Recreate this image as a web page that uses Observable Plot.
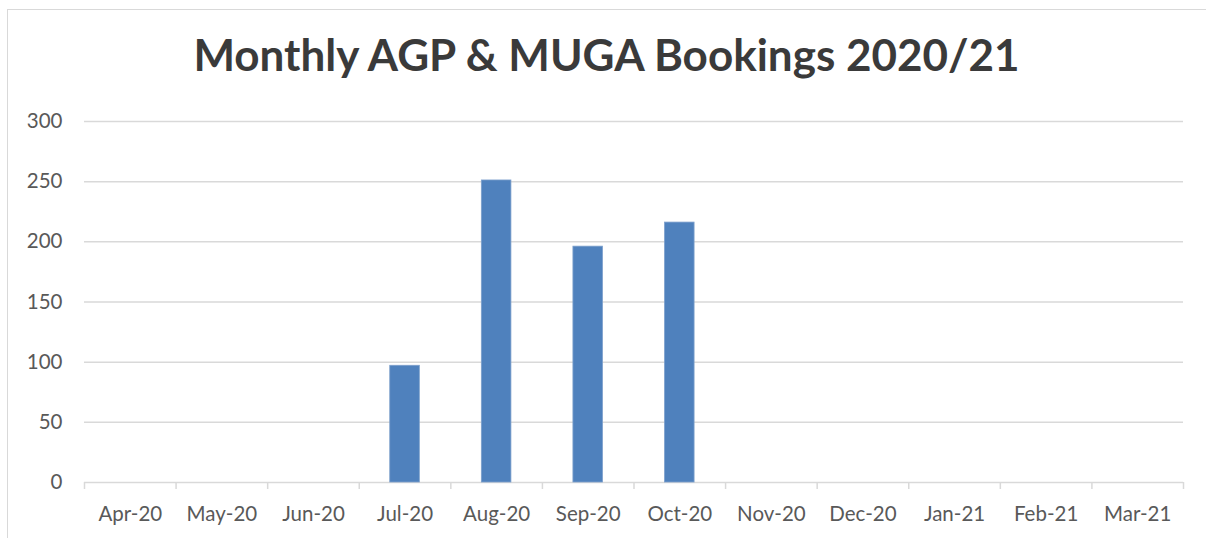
<!DOCTYPE html>
<html><head><meta charset="utf-8">
<script src="https://cdn.jsdelivr.net/npm/d3@7"></script>
<script src="https://cdn.jsdelivr.net/npm/@observablehq/plot@0.6"></script>
<style>
body{margin:0;background:#fff;overflow:hidden;font-family:Lato,sans-serif}
#wrap{position:relative;width:1206px;height:538px;overflow:hidden}
#frame{position:absolute;left:7px;top:9px;width:1300px;height:700px;border:1px solid #D9D9D9;box-sizing:border-box;pointer-events:none}
#title{position:relative;height:100px;box-sizing:border-box;padding-top:32px;padding-left:7px;line-height:44px;text-align:center;font-family:Lato,sans-serif;font-weight:bold;font-size:44px;color:#3a3a3a}
#chart svg{display:block}
</style></head><body>
<div id="wrap"><div id="frame"></div><div id="title">Monthly AGP &amp; MUGA Bookings 2020/21</div><div id="chart"></div></div>
<script>
const months = ["Apr-20","May-20","Jun-20","Jul-20","Aug-20","Sep-20","Oct-20","Nov-20","Dec-20","Jan-21","Feb-21","Mar-21"];
const bookings = [0,0,0,97,251,196,216,0,0,0,0,0];
const yTicks = [0,50,100,150,200,250,300];
const rows = months.map((m,i)=>({i, month:m, value:bookings[i]}));
const chart = Plot.plot({
  width:1206, height:438,
  marginTop:21, marginBottom:56, marginLeft:84, marginRight:23,
  style:{fontFamily:"Lato, sans-serif", fontSize:"20.5px", color:"#595959", background:"transparent", overflow:"visible"},
  x:{domain:[0, months.length], axis:null, label:null},
  y:{domain:[0,300], axis:null, label:null},
  marks:[
    Plot.gridY(yTicks,{stroke:"#D9D9D9", strokeOpacity:1, strokeWidth:1.5}),
    Plot.axisX(d3.range(months.length+1), {tickSize:7, tickFormat:()=>"", stroke:"#D9D9D9", strokeOpacity:1, strokeWidth:1.5, label:null}),
    Plot.axisX(d3.range(months.length).map(i=>i+0.5), {tickSize:0, tickPadding:24, tickFormat:v=>months[Math.floor(v)], label:null}),
    Plot.axisY(yTicks,{tickSize:0, tickPadding:22, label:null}),
    Plot.rectY(rows,{x:"i", interval:1, y:"value", insetLeft:31, insetRight:31, fill:"#4F81BD", stroke:"#7DA0CC", strokeWidth:0.8})
  ]
});
document.getElementById("chart").appendChild(chart);
</script>
</body></html>
